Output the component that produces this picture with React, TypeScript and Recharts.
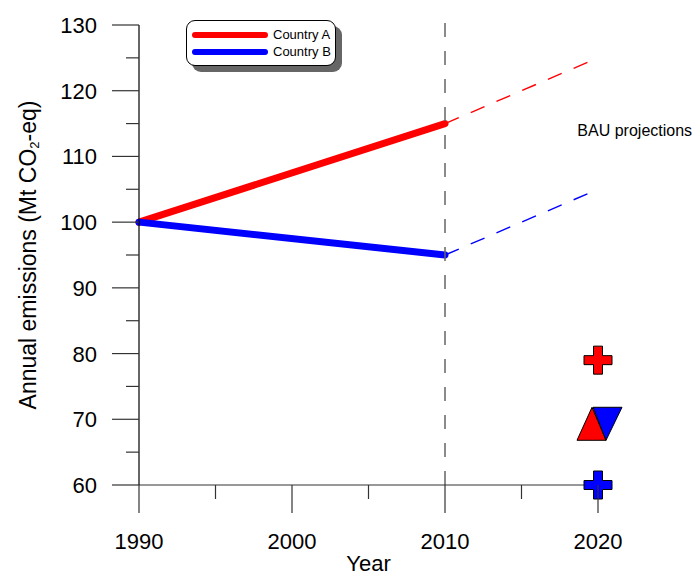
import React from 'react';
import {
  ComposedChart,
  Line,
  Scatter,
  XAxis,
  YAxis,
  ReferenceLine,
  ReferenceDot,
  Legend,
} from 'recharts';

const FONT = '"Liberation Sans", Arial, Helvetica, sans-serif';

// ---- data ----
const years = [1990, 2010, 2020];
const countryA = [100, 115, null];
const countryB = [100, 95, null];
const projA = [null, 115, 125];
const projB = [null, 95, 105];

const xTicks = [1990, 1995, 2000, 2005, 2010, 2015, 2020];
const yTicks = [60, 65, 70, 75, 80, 85, 90, 95, 100, 105, 110, 115, 120, 125, 130];

const targetA = [{ year: 2020, value: 79 }];
const targetB = [{ year: 2020, value: 60 }];
const targetBoth = [{ year: 2020, value: 70 }];

const bauLabel = { year: 2022.4, value: 114, text: 'BAU projections' };
const seriesNames = ['Country A', 'Country B'];
const seriesColors = ['#ff0000', '#0000ff'];

const data = years.map((y, i) => ({
  year: y,
  a: countryA[i],
  b: countryB[i],
  pa: projA[i],
  pb: projB[i],
}));

const XTick = (props: any) => {
  const { x, y, payload } = props;
  const major = payload.value % 10 === 0;
  return (
    <g>
      <line x1={x} y1={y} x2={x} y2={y + (major ? 28 : 14)} stroke="#333" strokeWidth={1.2} />
      {major && (
        <text x={x} y={y + 64} textAnchor="middle" fontSize={22} fontFamily={FONT} fill="#000">
          {payload.value}
        </text>
      )}
    </g>
  );
};

const YTick = (props: any) => {
  const { x, y, payload } = props;
  const major = payload.value % 10 === 0;
  return (
    <g>
      <line x1={x} y1={y} x2={x - (major ? 27 : 13)} y2={y} stroke="#333" strokeWidth={1.2} />
      {major && (
        <text x={x - 42} y={y + 8} textAnchor="end" fontSize={22} fontFamily={FONT} fill="#000">
          {payload.value}
        </text>
      )}
    </g>
  );
};

const YLabel = (props: any) => {
  const vb = props.viewBox || {};
  const cx = (vb.x || 0) + 28;
  const cy = (vb.y || 0) + (vb.height || 0) / 2;
  return (
    <text
      x={cx}
      y={cy}
      transform={`rotate(-90 ${cx} ${cy})`}
      textAnchor="middle"
      dominantBaseline="central"
      fontSize={23}
      fontFamily={FONT}
      fill="#000"
    >
      Annual emissions (Mt CO
      <tspan fontSize={13} dy={6}>2</tspan>
      <tspan dy={-6}>-eq)</tspan>
    </text>
  );
};

const Cross = (color: string) => (props: any) => {
  const { cx, cy } = props;
  const h = 14;
  const a = 4.5;
  const d = `M${cx - a},${cy - h} H${cx + a} V${cy - a} H${cx + h} V${cy + a} H${cx + a} V${cy + h} H${cx - a} V${cy + a} H${cx - h} V${cy - a} H${cx - a} Z`;
  return <path d={d} fill={color} stroke="#000" strokeWidth={1} />;
};

const TrianglePair = (props: any) => {
  const { cx, cy } = props;
  const red = `M${cx - 21},${cy + 21} L${cx - 6},${cy - 12} L${cx + 8},${cy + 21} Z`;
  const blue = `M${cx - 5},${cy - 12} L${cx + 24},${cy - 12} L${cx + 8},${cy + 21} Z`;
  return (
    <g>
      <path d={red} fill={seriesColors[0]} stroke="#000" strokeWidth={1} />
      <path d={blue} fill={seriesColors[1]} stroke="#000" strokeWidth={1} />
    </g>
  );
};

const LegendBox = () => (
  <div
    style={{
      width: 150,
      height: 46,
      border: '1.5px solid #000',
      borderRadius: 9,
      background: '#fff',
      boxShadow: '6px 6px 0 #666',
      boxSizing: 'border-box',
      fontFamily: FONT,
      fontSize: 13,
      paddingTop: 5,
    }}
  >
    {seriesNames.map((n, i) => (
      <div key={n} style={{ display: 'flex', alignItems: 'center', height: 17, marginLeft: 5 }}>
        <div style={{ width: 76, height: 6, borderRadius: 3, background: seriesColors[i], marginRight: 5 }} />
        <span>{n}</span>
      </div>
    ))}
  </div>
);

export default function App() {
  return (
    <div style={{ width: 700, height: 576 }}>
      <style>{`body{margin:0}`}</style>
      <ComposedChart
        width={700}
        height={576}
        data={data}
        margin={{ top: 25, right: 102, bottom: 0, left: 0 }}
        style={{ fontFamily: FONT }}
      >
        <XAxis
          dataKey="year"
          type="number"
          domain={[1990, 2020]}
          ticks={xTicks}
          interval={0}
          height={91}
          tickSize={0}
          tickMargin={0}
          tickLine={false}
          tick={<XTick />}
          axisLine={{ stroke: '#333', strokeWidth: 1.2 }}
          label={{ value: 'Year', position: 'insideBottom', offset: 5, fontSize: 22, fill: '#000', fontFamily: FONT }}
        />
        <YAxis
          type="number"
          domain={[60, 130]}
          ticks={yTicks}
          interval={0}
          width={139}
          tickSize={0}
          tickMargin={0}
          tickLine={false}
          tick={<YTick />}
          axisLine={{ stroke: '#000', strokeWidth: 1.2 }}
          label={<YLabel />}
        />
        <Legend
          layout="vertical"
          align="center"
          verticalAlign="middle"
          content={<LegendBox />}
          wrapperStyle={{ left: 186, top: 20, width: 156, height: 54 }}
        />
        <Line dataKey="pa" stroke={seriesColors[0]} strokeWidth={1.4} strokeDasharray="15 13" dot={false} isAnimationActive={false} legendType="none" />
        <Line dataKey="pb" stroke={seriesColors[1]} strokeWidth={1.4} strokeDasharray="15 13" dot={false} isAnimationActive={false} legendType="none" />
        <Line dataKey="a" stroke={seriesColors[0]} strokeWidth={7} strokeLinecap="round" dot={false} isAnimationActive={false} />
        <Line dataKey="b" stroke={seriesColors[1]} strokeWidth={7} strokeLinecap="round" dot={false} isAnimationActive={false} />
        <ReferenceLine
          segment={[{ x: 2010, y: 60 }, { x: 2010, y: 130.8 }]}
          stroke="#666"
          strokeWidth={1.5}
          strokeDasharray="14 14"
          ifOverflow="visible"
        />
        <ReferenceDot
          x={bauLabel.year}
          y={bauLabel.value}
          r={0}
          ifOverflow="visible"
          label={{ value: bauLabel.text, position: 'center', fontSize: 16, fill: '#000', fontFamily: FONT }}
        />
        <Scatter data={targetA} dataKey="value" shape={Cross(seriesColors[0])} isAnimationActive={false} legendType="none" />
        <Scatter data={targetB} dataKey="value" shape={Cross(seriesColors[1])} isAnimationActive={false} legendType="none" />
        <Scatter data={targetBoth} dataKey="value" shape={TrianglePair} isAnimationActive={false} legendType="none" />
      </ComposedChart>
    </div>
  );
}
